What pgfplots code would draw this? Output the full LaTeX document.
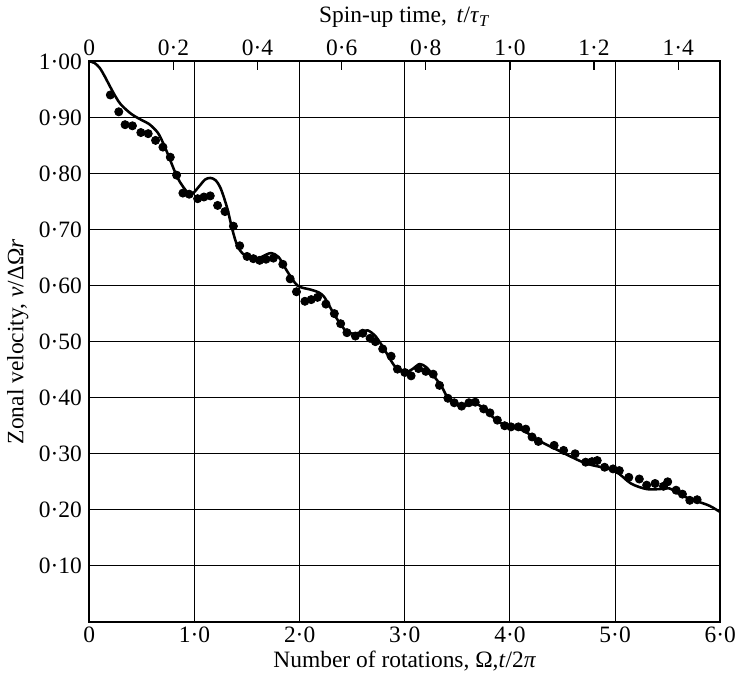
\documentclass[border=0pt]{standalone}
\usepackage{fontspec}
\setmainfont{Liberation Serif}
\usepackage{pgfplots}
\pgfplotsset{compat=1.18}

\pgfplotstableread{
x y
0.20 0.940
0.28 0.910
0.34 0.887
0.41 0.885
0.49 0.873
0.56 0.871
0.63 0.859
0.70 0.847
0.77 0.829
0.83 0.797
0.89 0.765
0.95 0.763
1.03 0.755
1.09 0.758
1.15 0.760
1.22 0.743
1.29 0.732
1.37 0.706
1.43 0.671
1.50 0.652
1.56 0.648
1.62 0.645
1.68 0.647
1.75 0.649
1.84 0.638
1.91 0.612
1.97 0.589
2.05 0.572
2.11 0.575
2.17 0.579
2.25 0.567
2.33 0.550
2.39 0.532
2.45 0.516
2.53 0.510
2.60 0.515
2.67 0.506
2.72 0.500
2.79 0.487
2.87 0.474
2.93 0.451
3.00 0.445
3.06 0.439
3.13 0.452
3.20 0.447
3.27 0.442
3.33 0.422
3.41 0.399
3.47 0.391
3.54 0.385
3.61 0.391
3.67 0.392
3.75 0.380
3.81 0.373
3.88 0.360
3.95 0.350
4.01 0.348
4.08 0.348
4.15 0.344
4.21 0.330
4.27 0.322
4.42 0.315
4.51 0.306
4.62 0.300
4.72 0.285
4.78 0.286
4.83 0.288
4.90 0.276
4.98 0.273
5.04 0.270
5.13 0.258
5.23 0.255
5.30 0.244
5.38 0.247
5.46 0.242
5.50 0.250
5.58 0.235
5.64 0.228
5.71 0.217
5.78 0.218
}\dots

\pgfplotstableread{
x y
0.00 1.000
0.05 0.997
0.10 0.988
0.15 0.972
0.20 0.954
0.25 0.937
0.30 0.923
0.40 0.906
0.50 0.895
0.57 0.888
0.65 0.873
0.70 0.855
0.75 0.833
0.84 0.792
0.93 0.767
0.98 0.764
1.04 0.776
1.10 0.789
1.15 0.792
1.20 0.788
1.25 0.773
1.31 0.739
1.36 0.700
1.41 0.670
1.48 0.654
1.60 0.649
1.68 0.655
1.73 0.658
1.80 0.651
1.88 0.626
1.98 0.600
2.10 0.593
2.18 0.588
2.24 0.578
2.33 0.548
2.43 0.521
2.51 0.514
2.60 0.518
2.65 0.520
2.72 0.510
2.79 0.491
2.91 0.455
3.01 0.446
3.08 0.452
3.14 0.460
3.20 0.455
3.27 0.440
3.35 0.420
3.42 0.397
3.54 0.384
3.64 0.390
3.73 0.384
3.89 0.357
4.01 0.348
4.13 0.341
4.29 0.322
4.46 0.306
4.72 0.283
4.99 0.270
5.15 0.247
5.30 0.237
5.42 0.237
5.52 0.238
5.64 0.225
5.80 0.214
5.90 0.207
6.00 0.196
}\curve

\begin{document}
\begin{tikzpicture}
\begin{axis}[
  scale only axis, width=296pt, height=263pt,
  xmin=0, xmax=6, ymin=0, ymax=1,
  xtick={0,1,2,3,4,5,6},
  xticklabels={0,1·0,2·0,3·0,4·0,5·0,6·0},
  ytick={0.1,0.2,0.3,0.4,0.5,0.6,0.7,0.8,0.9,1.0},
  yticklabels={0·10,0·20,0·30,0·40,0·50,0·60,0·70,0·80,0·90,1·00},
  grid=major, major grid style={black, line width=0.45pt},
  major tick length=0pt,
  axis line style={line width=0.8pt},
  tick label style={font=\fontsize{11}{13}\selectfont},
  label style={font=\fontsize{11}{13}\selectfont},
  xticklabel style={yshift=1pt},
  xlabel={Number of rotations, Ω,\textit{t}/2\textit{π}},
  ylabel={Zonal velocity, \textit{v}/ΔΩ\textit{r}},
  xlabel style={yshift=3pt},
  ylabel style={yshift=-2pt},
  clip=false,
]
\addplot[black, line width=1.2pt, smooth, tension=0.5] table[x=x,y=y] {\curve};
\addplot[only marks, mark=*, mark size=1.9pt, black] table[x=x,y=y] {\dots};
\end{axis}
\begin{axis}[
  scale only axis, width=296pt, height=263pt,
  xmin=0, xmax=1.5, ymin=0, ymax=1,
  axis x line*=top, axis y line=none,
  xtick={0,0.2,0.4,0.6,0.8,1.0,1.2,1.4},
  xticklabels={0,0·2,0·4,0·6,0·8,1·0,1·2,1·4},
  tick align=inside, major tick length=4pt,
  tick style={black, line width=0.6pt},
  axis line style={line width=0.8pt},
  tick label style={font=\fontsize{11}{13}\selectfont},
  label style={font=\fontsize{11}{13}\selectfont},
  xticklabel style={yshift=-1pt},
  xlabel={Spin-up time, \,\textit{t}/\textit{τ}\textsubscript{\textit{T}}},
  xlabel style={yshift=-1pt},
]
\end{axis}
\end{tikzpicture}
\end{document}
